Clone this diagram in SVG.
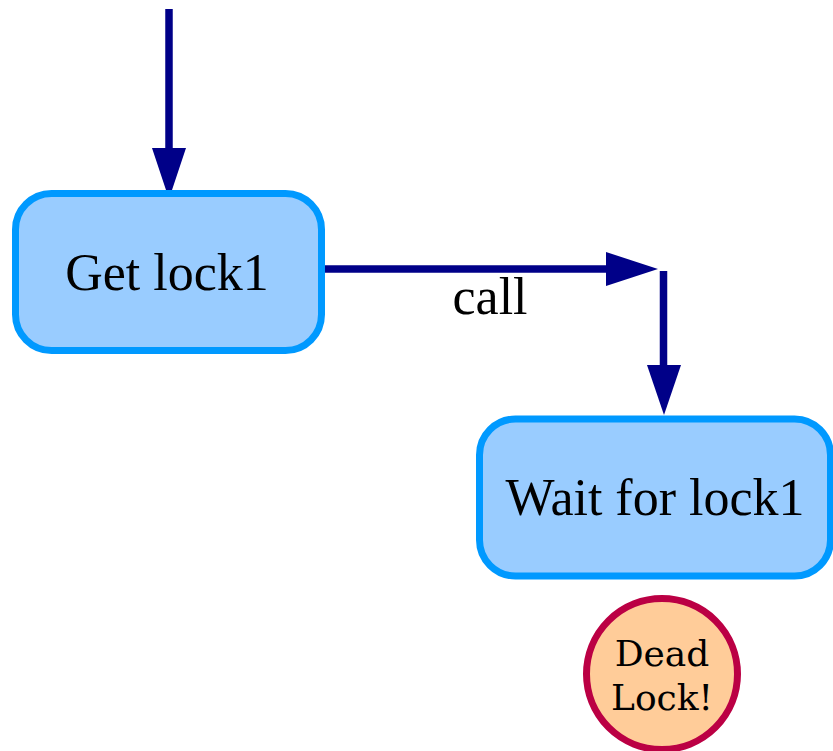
<svg xmlns="http://www.w3.org/2000/svg" width="833" height="751" viewBox="0 0 833 751">
  <style>
    .state rect { fill: #99ccff; stroke: #0099ff; stroke-width: 7; }
    .state text { font-family: "Liberation Serif", "Times New Roman", serif; font-size: 52px; fill: #000; text-anchor: middle; }
    .edge { stroke: #000088; stroke-width: 7.5; fill: none; }
    .head { fill: #000088; }
    .label { font-family: "Liberation Serif", "Times New Roman", serif; font-size: 52px; fill: #000; text-anchor: middle; }
    .stop circle { fill: #ffcc99; stroke: #bb0044; stroke-width: 7; }
    .stop text { font-family: "DejaVu Serif", serif; font-size: 36px; fill: #000; text-anchor: middle; }
  </style>

  <g id="connectors">
    <!-- entry into Get lock1 -->
    <line class="edge" x1="169" y1="9" x2="169" y2="150"/>
    <polygon class="head" points="152,148 186,148 169,199"/>
    <!-- call: Get lock1 -> Wait for lock1 -->
    <line class="edge" x1="322" y1="269" x2="608" y2="269"/>
    <polygon class="head" points="606,252 606,286 658,269"/>
    <line class="edge" x1="663.5" y1="271" x2="663.5" y2="367"/>
    <polygon class="head" points="647,365 681,365 664,415"/>
    <text class="label" x="490" y="314">call</text>
  </g>

  <g id="get-lock1" class="state">
    <rect x="15.5" y="193.5" width="306" height="157" rx="36" ry="36"/>
    <text x="167" y="290">Get lock1</text>
  </g>

  <g id="wait-for-lock1" class="state">
    <rect x="479.5" y="419" width="351" height="157" rx="36" ry="36"/>
    <text x="655" y="515">Wait for lock1</text>
  </g>

  <g id="dead-lock" class="stop">
    <circle cx="662" cy="674" r="75.5"/>
    <text x="662" y="666">Dead</text>
    <text x="662" y="710">Lock!</text>
  </g>
</svg>
